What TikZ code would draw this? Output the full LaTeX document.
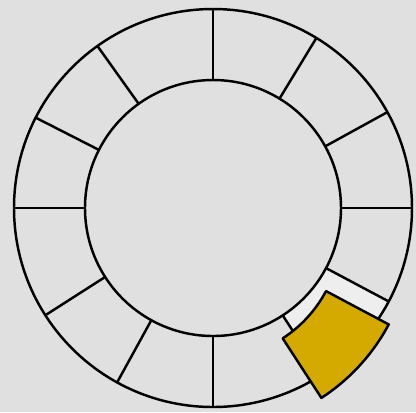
\documentclass[tikz,border=0pt]{standalone}
\usepackage{tikz}
\definecolor{wheelBg}{HTML}{E0E0E0}
\definecolor{wheelSlot}{HTML}{EEEEEE}
\definecolor{wheelGold}{HTML}{D4AA00}

\begin{document}
\begin{tikzpicture}[
    ringline/.style={draw=black,line width=0.7pt},
    slotfill/.style={fill=wheelSlot},
    piece/.style={draw=black,line width=0.7pt,fill=wheelGold,line join=round}]

  \useasboundingbox[fill=wheelBg] (-2.13,-2.04) rectangle (2.03,2.08);

  % empty slot left by the lifted piece
  \fill[slotfill] (-28:1.28) arc[start angle=-28,end angle=-57,radius=1.28]
    -- (-57:1.99) arc[start angle=-57,end angle=-28,radius=1.99] -- cycle;

  % ring with twelve spokes
  \draw[ringline] (0,0) circle[radius=1.99];
  \draw[ringline] (0,0) circle[radius=1.28];
  \foreach \a in {90,58.7,28.8,0,-28,-57,-90,-118.8,-147.4,180,153,125.5}
    \draw[ringline] (\a:1.28) -- (\a:1.99);

  % lifted piece
  \begin{scope}[shift={(0,-0.23)}]
    \draw[piece] (-28:1.28) arc[start angle=-28,end angle=-57,radius=1.28]
      -- (-57:1.99) arc[start angle=-57,end angle=-28,radius=1.99] -- cycle;
  \end{scope}
\end{tikzpicture}
\end{document}
